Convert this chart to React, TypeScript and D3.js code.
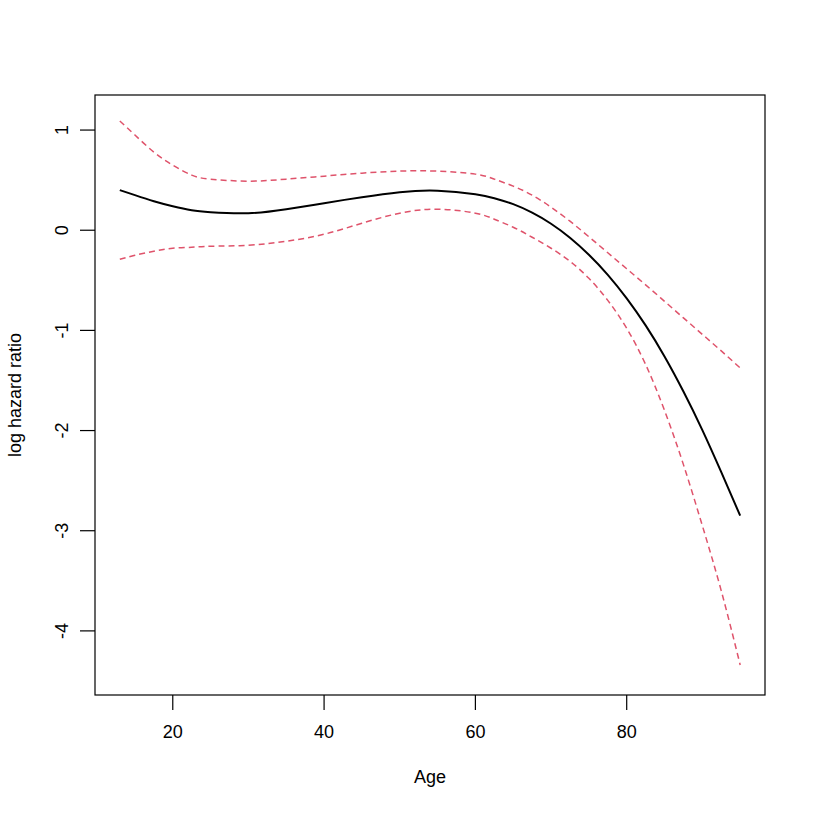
import React from "react";
import * as d3 from "d3";

const ages = [13, 15, 17.5, 20, 22.5, 25, 30, 35, 40, 45, 50, 55, 60, 62.5, 65, 67.5, 70, 72.5, 75, 77.5, 80, 82.5, 85, 87.5, 90, 92.5, 95];
const fit = [0.40, 0.35, 0.29, 0.24, 0.20, 0.18, 0.17, 0.21, 0.27, 0.33, 0.38, 0.395, 0.36, 0.32, 0.26, 0.175, 0.065, -0.075, -0.245, -0.445, -0.68, -0.95, -1.26, -1.61, -1.995, -2.415, -2.85];
const upper = [1.09, 0.95, 0.78, 0.65, 0.55, 0.51, 0.49, 0.51, 0.54, 0.57, 0.59, 0.59, 0.56, 0.51, 0.44, 0.35, 0.23, 0.09, -0.065, -0.225, -0.385, -0.545, -0.71, -0.875, -1.04, -1.205, -1.375];
const lower = [-0.29, -0.25, -0.21, -0.18, -0.17, -0.16, -0.15, -0.11, -0.04, 0.07, 0.17, 0.21, 0.17, 0.11, 0.03, -0.07, -0.18, -0.31, -0.48, -0.70, -0.98, -1.34, -1.80, -2.34, -2.95, -3.60, -4.34];
const xTicks = [20, 40, 60, 80];
const yTicks = [1, 0, -1, -2, -3, -4];
const xLabel = "Age";
const yLabel = "log hazard ratio";

const W = 814, H = 814;
const L = 95, R = 765, T = 95, B = 695;

export default function App() {
  const x = d3.scaleLinear().domain([9.72, 98.28]).range([L, R]);
  const y = d3.scaleLinear().domain([-4.64, 1.35]).range([B, T]);
  const line = (vals: number[]) =>
    d3.line<number>().x((_, i) => x(ages[i])).y((v) => y(v)).curve(d3.curveNatural)(vals) || "";
  const font = "'Liberation Sans', Arial, sans-serif";
  return (
    <svg width={W} height={H} style={{ position: "absolute", left: 0, top: 0, background: "#fff" }} fontFamily={font}>
      <rect x={0} y={0} width={W} height={H} fill="#fff" />
      <path d={line(upper)} fill="none" stroke="#DF536B" strokeWidth={1.5} strokeDasharray="6,4" />
      <path d={line(lower)} fill="none" stroke="#DF536B" strokeWidth={1.5} strokeDasharray="6,4" />
      <path d={line(fit)} fill="none" stroke="#000" strokeWidth={2} />
      <rect x={L} y={T} width={R - L} height={B - T} fill="none" stroke="#000" strokeWidth={1.2} />
      {xTicks.map((t) => (
        <g key={"x" + t}>
          <line x1={x(t)} x2={x(t)} y1={B} y2={B + 15} stroke="#000" strokeWidth={1.2} />
          <text x={x(t)} y={738} textAnchor="middle" fontSize={18}>{t}</text>
        </g>
      ))}
      {yTicks.map((t) => (
        <g key={"y" + t}>
          <line x1={L} x2={L - 15} y1={y(t)} y2={y(t)} stroke="#000" strokeWidth={1.2} />
          <text transform={`translate(68,${y(t)}) rotate(-90)`} textAnchor="middle" fontSize={18}>{t}</text>
        </g>
      ))}
      <text x={(L + R) / 2} y={783} textAnchor="middle" fontSize={18}>{xLabel}</text>
      <text transform={`translate(21,${(T + B) / 2}) rotate(-90)`} textAnchor="middle" fontSize={18}>{yLabel}</text>
    </svg>
  );
}
